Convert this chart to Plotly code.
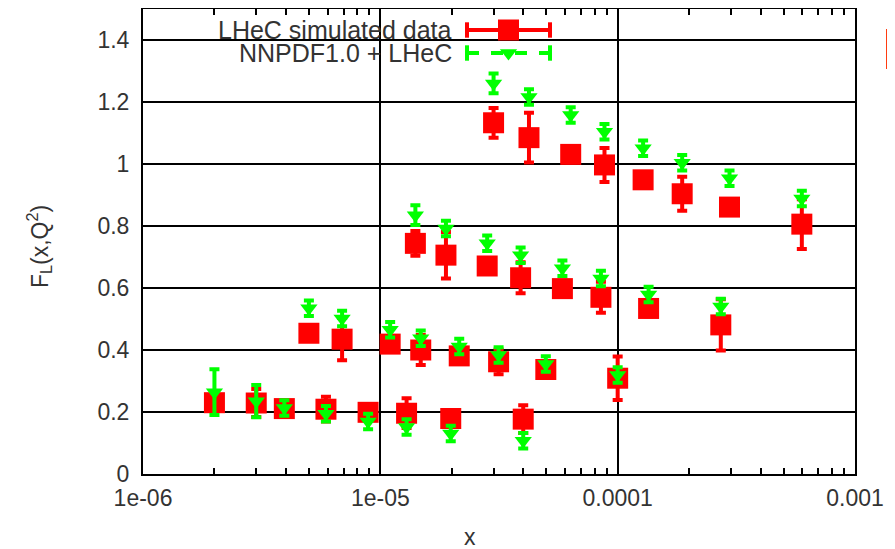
import plotly.graph_objects as go

# ---------------- data ----------------
# LHeC simulated data (red squares), four Q^2 bins concatenated
x_data = [3.0e-5, 4.23e-5, 6.34e-5, 8.8e-5, 1.28e-4, 1.87e-4, 2.96e-4, 5.97e-4,
          1.405e-5, 1.89e-5, 2.82e-5, 3.9e-5, 5.85e-5, 8.5e-5, 1.35e-4, 2.72e-4,
          5.0e-6, 6.9e-6, 1.1e-5, 1.48e-5, 2.15e-5, 3.15e-5, 4.98e-5, 1.0e-4,
          2.0e-6, 3.0e-6, 3.94e-6, 5.9e-6, 8.88e-6, 1.29e-5, 1.98e-5, 4.0e-5]
fl_data = [1.133, 1.085, 1.031, 0.997, 0.949, 0.904, 0.861, 0.806,
           0.744, 0.706, 0.671, 0.633, 0.598, 0.570, 0.534, 0.481,
           0.454, 0.435, 0.419, 0.400, 0.381, 0.362, 0.337, 0.309,
           0.230, 0.229, 0.211, 0.209, 0.199, 0.196, 0.179, 0.177]
fl_err = [0.048, 0.080, 0.025, 0.055, 0.025, 0.055, 0.025, 0.080,
          0.040, 0.075, 0.025, 0.050, 0.025, 0.050, 0.025, 0.083,
          0.025, 0.068, 0.025, 0.048, 0.025, 0.040, 0.025, 0.070,
          0.025, 0.045, 0.025, 0.040, 0.025, 0.048, 0.025, 0.045]

# NNPDF1.0 + LHeC (green triangles)
fl_nnpdf = [1.260, 1.216, 1.158, 1.104, 1.051, 1.004, 0.954, 0.889,
            0.835, 0.792, 0.744, 0.706, 0.664, 0.631, 0.579, 0.540,
            0.535, 0.502, 0.465, 0.438, 0.411, 0.384, 0.355, 0.319,
            0.264, 0.235, 0.213, 0.194, 0.169, 0.152, 0.131, 0.107]
fl_nnpdf_err = [0.032, 0.025, 0.025, 0.025, 0.025, 0.025, 0.025, 0.025,
                0.032, 0.025, 0.025, 0.025, 0.025, 0.025, 0.025, 0.025,
                0.025, 0.025, 0.025, 0.025, 0.025, 0.025, 0.025, 0.025,
                0.074, 0.052, 0.025, 0.025, 0.025, 0.025, 0.025, 0.025]

x_tickvals = [1e-6, 1e-5, 1e-4, 1e-3]
x_ticktext = ["1e-06", "1e-05", "0.0001", "0.001"]
x_minor = [m * d for d in (1e-6, 1e-5, 1e-4) for m in range(2, 10)]
y_tickvals = [0, 0.2, 0.4, 0.6, 0.8, 1.0, 1.2, 1.4]
y_ticktext = ["0", "0.2", "0.4", "0.6", "0.8", "1", "1.2", "1.4"]

series_names = ["LHeC simulated data", "NNPDF1.0 + LHeC"]
x_title = "x"
y_title = "F<sub>L</sub>(x,Q<sup>2</sup>)"

RED = "#ff0000"
GREEN = "#00ff00"
TXT = "#333333"
FONT = "Liberation Sans, Arial, sans-serif"

# ---------------- figure ----------------
W, H = 895, 549
OFF = 8  # page body margin: window pixel = figure pixel + OFF
# target plot box in window pixels
PL, PR, PT, PB = 143, 855, 9, 474
L, T = PL - OFF, PT - OFF
R, B = W - (PR - OFF), H - (PB - OFF)
PW, PH = PR - PL, PB - PT


def px_x(p):  # window pixel -> paper x
    return (p - PL) / PW


def px_y(p):  # window pixel -> paper y
    return 1 - (p - PT) / PH


fig = go.Figure()

fig.add_trace(go.Scatter(
    x=x_data, y=fl_data, mode="markers", name=series_names[0],
    marker=dict(symbol="square", size=21, color=RED, line=dict(width=0)),
    error_y=dict(type="data", array=fl_err, color=RED, thickness=4, width=5),
    showlegend=False,
))
fig.add_trace(go.Scatter(
    x=x_data, y=fl_nnpdf, mode="markers", name=series_names[1],
    marker=dict(symbol="triangle-down", size=15, color=GREEN, line=dict(width=0)),
    error_y=dict(type="data", array=fl_nnpdf_err, color=GREEN, thickness=4, width=5),
    showlegend=False,
))

# ---- custom key (gnuplot style: text left, sample right) on overlay axes ----
key_x0, key_x1 = px_x(467), px_x(550)
key_xc = (key_x0 + key_x1) / 2
key_rows = [px_y(30), px_y(53)]
key_styles = [
    dict(color=RED, dash="solid", symbol="square", size=21),
    dict(color=GREEN, dash="dash", symbol="triangle-down", size=15),
]
for yk, st in zip(key_rows, key_styles):
    fig.add_trace(go.Scatter(
        x=[key_x0, key_x1], y=[yk, yk], mode="lines", xaxis="x2", yaxis="y2",
        line=dict(color=st["color"], width=4, dash=st["dash"]),
        showlegend=False, hoverinfo="skip"))
    fig.add_trace(go.Scatter(
        x=[key_x0, key_x1], y=[yk, yk], mode="markers", xaxis="x2", yaxis="y2",
        marker=dict(symbol="line-ns", size=11, line=dict(color=st["color"], width=4)),
        showlegend=False, hoverinfo="skip"))
    fig.add_trace(go.Scatter(
        x=[key_xc], y=[yk], mode="markers", xaxis="x2", yaxis="y2",
        marker=dict(symbol=st["symbol"], size=st["size"], color=st["color"], line=dict(width=0)),
        showlegend=False, hoverinfo="skip"))

annotations = []
for name, yk in zip(series_names, key_rows):
    annotations.append(dict(
        x=px_x(454), y=yk, xref="paper", yref="paper", text=name,
        showarrow=False, xanchor="right", yanchor="middle",
        font=dict(family=FONT, size=25, color=TXT)))
# axis titles
annotations.append(dict(
    x=px_x(470), y=px_y(537), xref="paper", yref="paper", text=x_title,
    showarrow=False, xanchor="center", yanchor="middle",
    font=dict(family=FONT, size=23, color=TXT)))
annotations.append(dict(
    x=px_x(39), y=px_y(247), xref="paper", yref="paper", text=y_title,
    showarrow=False, xanchor="center", yanchor="middle", textangle=-90,
    font=dict(family=FONT, size=23, color=TXT)))

shapes = [
    # opaque key background
    dict(type="rect", xref="paper", yref="paper",
         x0=px_x(158), x1=px_x(563), y0=px_y(66), y1=px_y(18),
         fillcolor="white", line=dict(width=0), layer="between"),
    # partial red frame at the right edge of the image
    dict(type="rect", xref="paper", yref="paper",
         x0=px_x(888), x1=px_x(894), y0=px_y(67), y1=px_y(31),
         fillcolor="rgba(0,0,0,0)", line=dict(color="#ff3b10", width=4),
         layer="above"),
]

axis_common = dict(
    showline=True, linecolor="black", linewidth=2, mirror="ticks",
    ticks="inside", tickcolor="black", tickwidth=2, ticklen=12,
    showgrid=True, gridcolor="black", gridwidth=1.6,
    zeroline=False, automargin=False,
    tickfont=dict(family=FONT, size=23, color=TXT),
)

fig.update_layout(
    width=W, height=H,
    margin=dict(l=L, r=R, t=T, b=B),
    paper_bgcolor="white", plot_bgcolor="white",
    showlegend=False,
    xaxis=dict(
        type="log", range=[-6, -3],
        tickvals=x_tickvals, ticktext=x_ticktext,
        minor=dict(tickvals=x_minor, ticks="inside", ticklen=6,
                   tickcolor="black", tickwidth=2, showgrid=False),
        ticklabelstandoff=2,
        **axis_common),
    yaxis=dict(
        range=[0, 1.5], tickvals=y_tickvals, ticktext=y_ticktext,
        ticklabelstandoff=7,
        **axis_common),
    xaxis2=dict(overlaying="x", range=[0, 1], visible=False, fixedrange=True),
    yaxis2=dict(overlaying="y", range=[0, 1], visible=False, fixedrange=True),
    annotations=annotations,
    shapes=shapes,
)

fig.write_html("out.html")
